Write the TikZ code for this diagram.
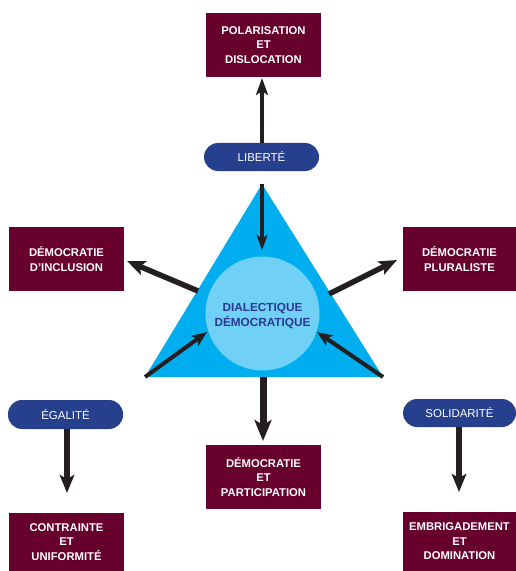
\documentclass[tikz,border=0pt]{standalone}
\usepackage{fontspec}
\setmainfont{Liberation Sans}
\usetikzlibrary{arrows.meta}
\definecolor{boxred}{RGB}{104,0,46}
\definecolor{pillblue}{RGB}{38,64,142}
\definecolor{triblue}{RGB}{0,174,239}
\definecolor{discblue}{RGB}{112,208,246}
\definecolor{textblue}{RGB}{43,57,144}
\definecolor{arrowblack}{RGB}{35,31,32}
\tikzset{
  outcome/.style={rectangle, fill=boxred, text=white, align=center,
    font=\fontsize{11.3}{14.5}\selectfont\bfseries, inner sep=0pt},
  value/.style={rectangle, rounded corners=14bp, fill=pillblue, text=white,
    font=\fontsize{11.5}{12}\selectfont, inner sep=0pt},
  slimarrow/.style={draw=arrowblack, line width=4bp,
    -{Stealth[length=17bp,width=12bp,inset=4bp]}},
  midarrow/.style={draw=arrowblack, line width=5.5bp,
    -{Stealth[length=18bp,width=14.5bp,inset=4bp]}},
  widearrow/.style={draw=arrowblack, line width=7bp,
    -{Stealth[length=21bp,width=17bp,inset=5bp]}},
}
\begin{document}
\begin{tikzpicture}[x=1bp,y=-1bp]
  \useasboundingbox (0,0) rectangle (516,571);

  % outcome boxes
  \node[outcome, minimum width=115bp, minimum height=64bp] (polar) at (263.5,45)
    {POLARISATION\\ET\\DISLOCATION};
  \node[outcome, minimum width=115bp, minimum height=64bp] (inclusion) at (66.5,259)
    {DÉMOCRATIE\\D’INCLUSION};
  \node[outcome, minimum width=113bp, minimum height=64bp] (pluraliste) at (459.5,259)
    {DÉMOCRATIE\\PLURALISTE};
  \node[outcome, minimum width=115bp, minimum height=64bp] (participation) at (263.5,477)
    {DÉMOCRATIE\\ET\\PARTICIPATION};
  \node[outcome, minimum width=115bp, minimum height=58bp] (contrainte) at (66.5,542)
    {CONTRAINTE\\ET\\UNIFORMITÉ};
  \node[outcome, minimum width=113bp, minimum height=59bp] (embrigadement) at (459.5,541.5)
    {EMBRIGADEMENT\\ET\\DOMINATION};

  % values
  \node[value, minimum width=115bp, minimum height=28bp] (liberte) at (261.5,157) {LIBERTÉ};
  \node[value, minimum width=115bp, minimum height=29bp] (egalite) at (65.5,414.5) {ÉGALITÉ};
  \node[value, minimum width=113bp, minimum height=28bp] (solidarite) at (459.5,413) {SOLIDARITÉ};

  % central triangle and disc
  \coordinate (apex) at (262,184);
  \coordinate (baseL) at (145,377);
  \coordinate (baseR) at (383,377);
  \coordinate (baseM) at (263,377);
  \fill[triblue] (apex) -- (baseR) -- (baseL) -- cycle;
  \node[circle, fill=discblue, minimum size=114bp, inner sep=0pt] (dialectique) at (262.5,313.5) {};
  \node[text=textblue, align=center, inner sep=0pt,
    font=\fontsize{11.8}{14.5}\selectfont\bfseries] (dialabel) at (262.5,316)
    {DIALECTIQUE\\DÉMOCRATIQUE};

  % arrow starts on the triangle sides, arrow tips
  \coordinate (sideL) at (198,291);
  \coordinate (sideR) at (329,294);
  \coordinate (tipPolar) at (262,78);
  \coordinate (tipDisc) at (262,250);
  \coordinate (tipIncl) at (127,261);
  \coordinate (tipPlur) at (397,260);
  \coordinate (tipDiscL) at (207,332);
  \coordinate (tipDiscR) at (317,332);
  \coordinate (tipPart) at (263,441);
  \coordinate (tipContr) at (67,493);
  \coordinate (tipEmbr) at (459,492);

  % arrows
  \draw[slimarrow] (liberte.north -| tipPolar) -- (tipPolar);
  \draw[slimarrow, -{Stealth[length=15bp,width=11bp,inset=3.5bp]}] (apex) -- (tipDisc);
  \draw[midarrow] (sideL) -- (tipIncl);
  \draw[midarrow] (sideR) -- (tipPlur);
  \draw[slimarrow, -{Stealth[length=15bp,width=12bp,inset=3.5bp]}] (baseL) -- (tipDiscL);
  \draw[slimarrow, -{Stealth[length=15bp,width=12bp,inset=3.5bp]}] (baseR) -- (tipDiscR);
  \draw[widearrow] (baseM) -- (tipPart);
  \draw[midarrow] (egalite.south -| tipContr) -- (tipContr);
  \draw[midarrow] (solidarite.south -| tipEmbr) -- (tipEmbr);
\end{tikzpicture}
\end{document}
